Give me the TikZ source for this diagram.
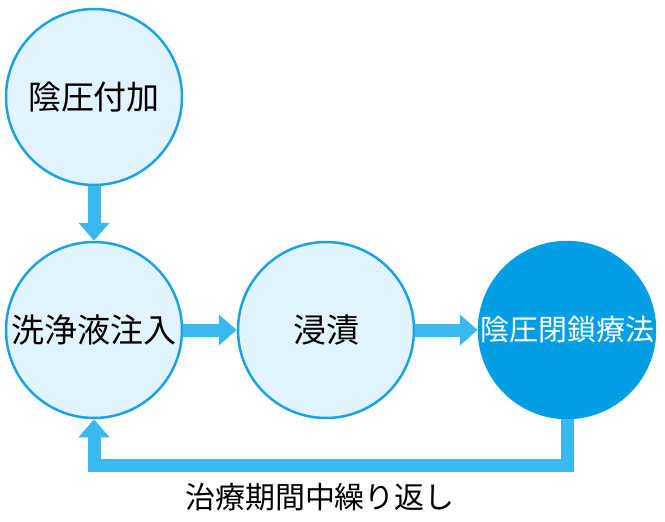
\documentclass[tikz,border=0pt]{standalone}
\usepackage{fontspec}
\newfontfamily\cjk{Noto Sans CJK JP}
\usetikzlibrary{arrows.meta}
\definecolor{ringblue}{HTML}{1AA3E0}
\definecolor{paleblue}{HTML}{E1F3FC}
\definecolor{deepblue}{HTML}{009FE3}
\definecolor{flowblue}{HTML}{3BB9EE}
\tikzset{
	stage/.style={draw=ringblue, line width=2.5pt, circle, fill=paleblue, minimum size=176pt, inner sep=0pt, font=\cjk\fontsize{33}{33}\selectfont},
	flow/.style={flowblue, line width=13pt, -{Triangle[width=30pt,length=18pt]}}
}
\begin{document}
\begin{tikzpicture}[x=1pt, y=-1pt]
				\useasboundingbox (0,0) rectangle (665,522);
				\node[stage] (F)at(94, 97) {陰圧付加};
				\node[stage] (W)at(94, 330) {洗浄液注入};
				\node[stage] (S)at(326, 330) {浸漬};
				\node[stage, draw=deepblue, fill=deepblue, text=white, font=\cjk\fontsize{29}{29}\selectfont] (N)at(567, 330) {陰圧閉鎖療法};
				\coordinate (R1) at (567, 465);
				\coordinate (R2) at (94, 465);
				\draw[flow] (F) -- (W);
				\draw[flow] (W) -- (S);
				\draw[flow] (S) -- (N);
				\draw[flow, line cap=butt] (N.south) -- (R1) -- (R2) -- (W.south);
				\node[font=\cjk\fontsize{30}{30}\selectfont] (L)at(320, 497) {治療期間中繰り返し};
			\end{tikzpicture}
\end{document}
